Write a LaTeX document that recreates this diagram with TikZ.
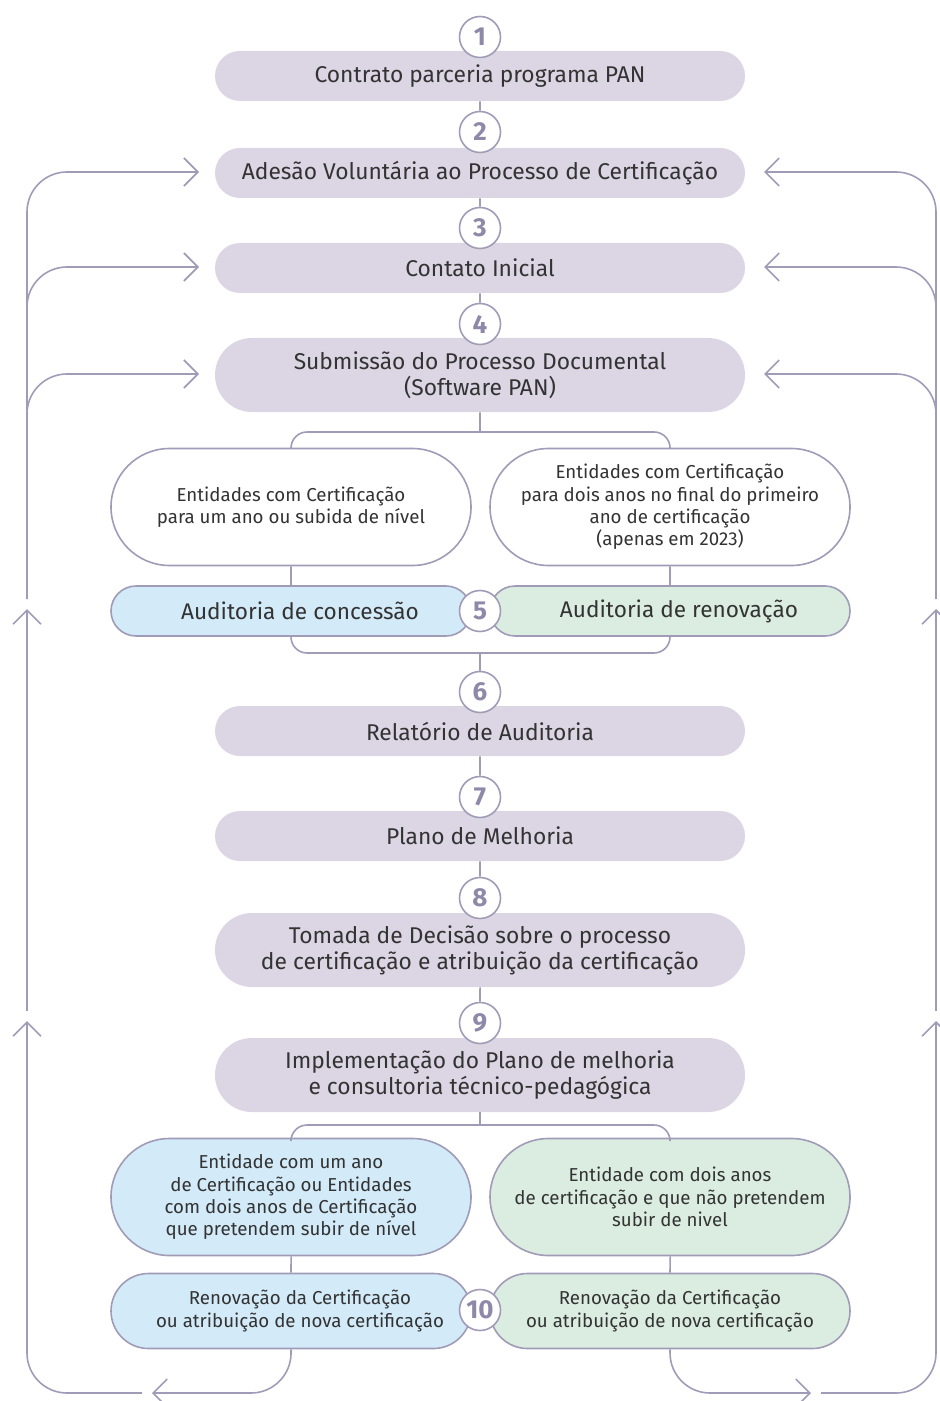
\documentclass[tikz,border=0pt]{standalone}
\usepackage{fontspec}
\setmainfont{Fira Sans}
\usetikzlibrary{shapes.misc,arrows.meta,positioning}
\definecolor{lilac}{HTML}{DCD5E4}
\definecolor{rim}{HTML}{A09CB8}
\definecolor{sky}{HTML}{D3EAF8}
\definecolor{mint}{HTML}{DBEDE0}
\definecolor{ink}{HTML}{333333}
\definecolor{numcol}{HTML}{8E89A8}

\begin{document}
\begin{tikzpicture}
            [x=0.5pt, y=-0.5pt,
             every node/.style={inner sep=0pt, align=center, text=ink},
             stagebox/.style={rounded rectangle, minimum width=265pt, minimum height=25pt, fill=lilac, font=\fontsize{11.4}{13}\selectfont},
             tallbox/.style={stagebox, minimum height=37pt},
             sidebox/.style={rounded rectangle, minimum width=180pt, minimum height=25pt, line width=0.8pt, draw=rim, font=\fontsize{11.3}{13}\selectfont},
             notebox/.style={sidebox, minimum height=58.5pt, font=\fontsize{9.35}{11.2}\selectfont},
             renewbox/.style={notebox, minimum height=37.5pt},
             numdot/.style={circle, minimum size=20.5pt, fill=white, line width=0.8pt, draw=rim, text=numcol, font=\fontsize{13}{13}\bfseries\selectfont},
             link/.style={line width=0.8pt, draw=rim},
             loopback/.style={link, rounded corners=20pt, -{Straight Barb[length=7pt, width=14pt]}}]
                \useasboundingbox (0, 0) rectangle (939, 1401);
                \node (s1) [stagebox] at (480, 76) {Contrato parceria programa PAN};
                \node (c1) [numdot] at (480, 37) {1};
                \node (s2) [stagebox] at (480, 173) {Adesão Voluntária ao Processo de Certificação};
                \node (c2) [numdot] at (480, 132) {2};
                \node (s3) [stagebox] at (480, 268) {Contato Inicial};
                \node (c3) [numdot] at (480, 228) {3};
                \node (s4) [tallbox] at (480, 375) {Submissão do Processo Documental\\(Software PAN)};
                \node (c4) [numdot] at (480, 324) {4};
                \node (wl) [notebox, fill=white] at (291, 507) {Entidades com Certificação\\para um ano ou subida de nível};
                \node (wr) [notebox, fill=white] at (670, 507) {Entidades com Certificação\\para dois anos no final do primeiro\\ano de certificação\\(apenas em 2023)};
                \node (ac) [sidebox, fill=sky] at (291, 611) {\hspace*{9pt}Auditoria de concessão};
                \node (ar) [sidebox, fill=mint] at (670, 611) {\hspace*{9pt}Auditoria de renovação};
                \node (c5) [numdot] at (480, 611) {5};
                \node (s6) [stagebox] at (480, 731) {Relatório de Auditoria};
                \node (c6) [numdot] at (480, 692) {6};
                \node (s7) [stagebox] at (480, 836) {Plano de Melhoria};
                \node (c7) [numdot] at (480, 797) {7};
                \node (s8) [tallbox] at (480, 950) {Tomada de Decisão sobre o processo\\de certificação e atribuição da certificação};
                \node (c8) [numdot] at (480, 898) {8};
                \node (s9) [tallbox] at (480, 1075) {Implementação do Plano de melhoria\\e consultoria técnico-pedagógica};
                \node (c9) [numdot] at (480, 1023) {9};
                \node (el) [notebox, fill=sky] at (291, 1197) {Entidade com um ano\\de Certificação ou Entidades\\com dois anos de Certificação\\que pretendem subir de nível};
                \node (er) [notebox, fill=mint] at (670, 1197) {Entidade com dois anos\\de certificação e que não pretendem\\subir de nivel};
                \node (rl) [renewbox, fill=sky] at (291, 1311) {\hspace*{9pt}Renovação da Certificação\\\hspace*{9pt}ou atribuição de nova certificação};
                \node (rr) [renewbox, fill=mint] at (670, 1311) {Renovação da Certificação\\ou atribuição de nova certificação};
                \node (c10) [numdot] at (480, 1310) {10};
                \coordinate (f1) at (480, 432);
                \coordinate (j1) at (480, 653);
                \coordinate (f2) at (480, 1125);
                \draw [link] (s1) to (c2);
                \draw [link] (s2) to (c3);
                \draw [link] (s3) to (c4);
                \draw [link] (s4) to (f1);
                \draw [link, rounded corners=8pt] (wl) |- (f1) -| (wr);
                \draw [link] (wl) to (ac);
                \draw [link] (wr) to (ar);
                \draw [link, rounded corners=8pt] (ac) |- (j1) -| (ar);
                \draw [link] (j1) to (c6);
                \draw [link] (s6) to (c7);
                \draw [link] (s7) to (c8);
                \draw [link] (s8) to (c9);
                \draw [link] (s9) to (f2);
                \draw [link, rounded corners=8pt] (el) |- (f2) -| (er);
                \draw [link] (el) to (rl);
                \draw [link] (er) to (rr);
                \coordinate (lb1) at (152, 1393);
                \coordinate (lb2) at (142, 1393);
                \coordinate (lu1) at (27, 1021);
                \coordinate (lu2) at (27, 1011);
                \coordinate (lu3) at (27, 609);
                \coordinate (lu4) at (27, 599);
                \coordinate (lk3) at (27, 318);
                \coordinate (lk4) at (27, 425);
                \coordinate (la2) at (199, 172);
                \coordinate (la3) at (199, 267);
                \coordinate (la4) at (199, 374);
                \coordinate (rb1) at (811, 1393);
                \coordinate (rb2) at (821, 1393);
                \coordinate (ru1) at (936, 1021);
                \coordinate (ru2) at (936, 1011);
                \coordinate (ru3) at (936, 609);
                \coordinate (ru4) at (936, 599);
                \coordinate (rk3) at (936, 318);
                \coordinate (rk4) at (936, 425);
                \coordinate (ra2) at (764, 172);
                \coordinate (ra3) at (764, 267);
                \coordinate (ra4) at (764, 374);
                \draw [loopback] (rl) |- (lb1);
                \draw [loopback] (lb2) -| (lu1);
                \draw [loopback] (lu2) to (lu3);
                \draw [loopback] (lu4) |- (la2);
                \draw [loopback] (lk3) |- (la3);
                \draw [loopback] (lk4) |- (la4);
                \draw [loopback] (rr) |- (rb1);
                \draw [loopback] (rb2) -| (ru1);
                \draw [loopback] (ru2) to (ru3);
                \draw [loopback] (ru4) |- (ra2);
                \draw [loopback] (rk3) |- (ra3);
                \draw [loopback] (rk4) |- (ra4);
            \end{tikzpicture}
\end{document}
